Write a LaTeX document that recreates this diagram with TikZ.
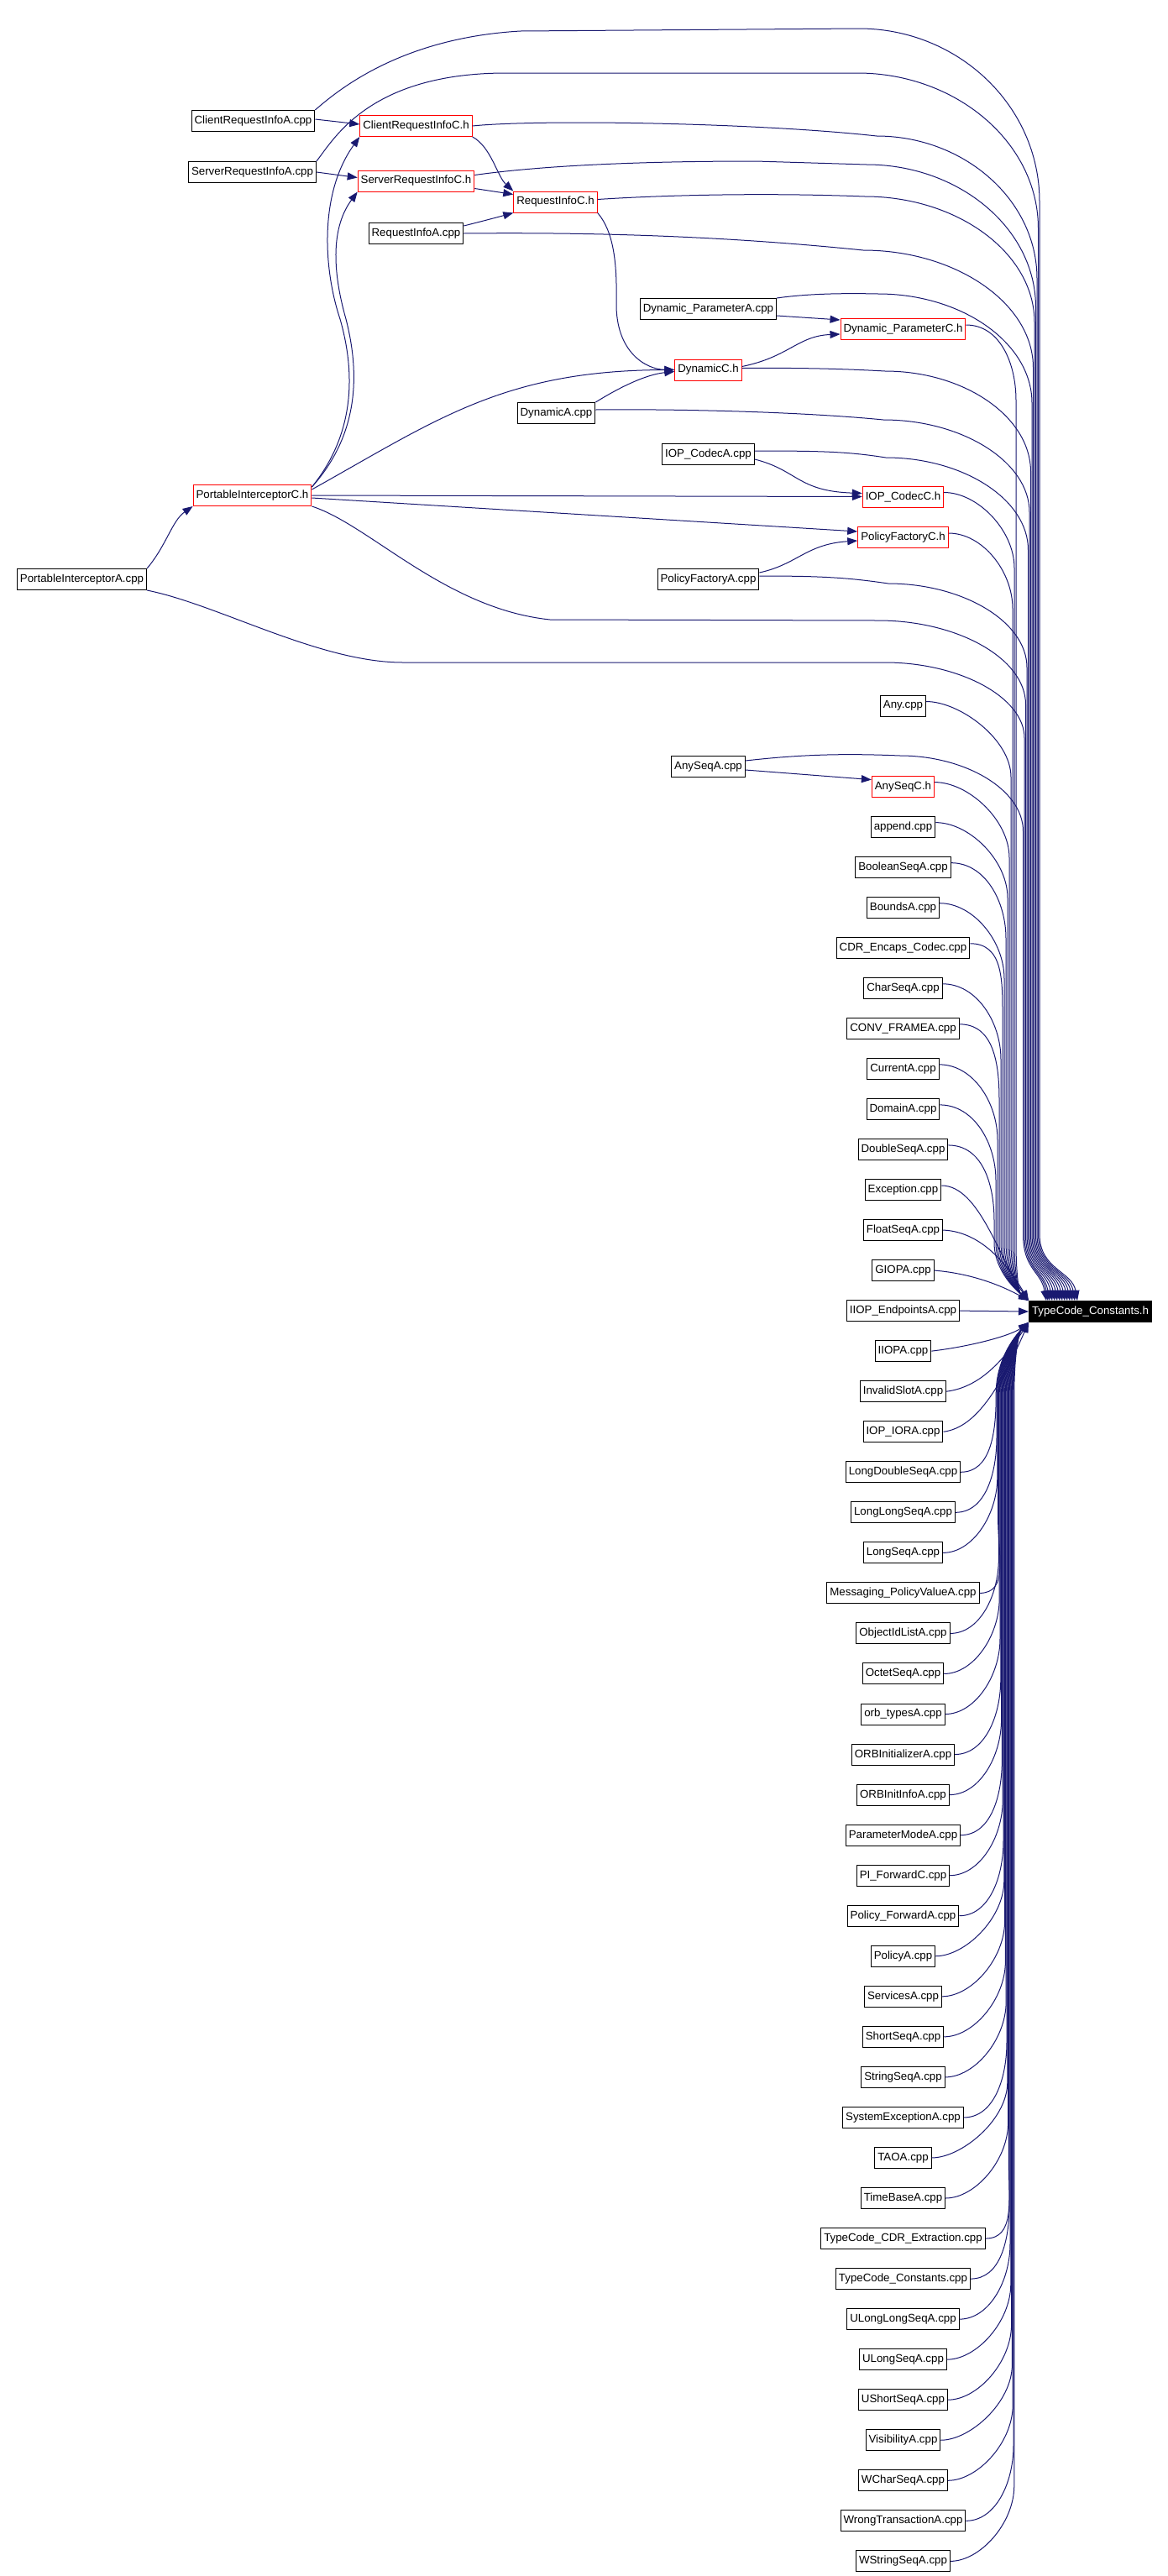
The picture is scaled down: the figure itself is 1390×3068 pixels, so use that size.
\documentclass[tikz,border=0pt]{standalone}
\usepackage{fontspec}
\setmainfont{Liberation Sans}
\usetikzlibrary{arrows.meta,calc}
\definecolor{edgeblue}{HTML}{191970}
\tikzset{
  file/.style={draw=black,line width=1pt,fill=white,inner xsep=3.5pt,inner ysep=0pt,
    minimum height=25pt,font=\fontsize{13.3}{16}\selectfont},
  header/.style={file,draw=red},
  target/.style={file,fill=black,text=white},
  dep/.style={draw=edgeblue,line width=1pt,->}
}
\begin{document}
\begin{tikzpicture}[x=1pt,y=-1pt,>={Triangle[length=12pt,width=9pt]}]
	\useasboundingbox (0,0) rectangle (1390,3068);
	\node[file] (pia) at (97.5,690) {PortableInterceptorA.cpp};
	\node[file] (cria) at (301.5,144) {ClientRequestInfoA.cpp};
	\node[file] (sria) at (300.5,205) {ServerRequestInfoA.cpp};
	\node[header] (pic) at (300.5,590) {PortableInterceptorC.h};
	\node[header] (cric) at (495.5,150) {ClientRequestInfoC.h};
	\node[header] (sric) at (495.5,215.5) {ServerRequestInfoC.h};
	\node[file] (ria) at (495.5,278) {RequestInfoA.cpp};
	\node[header] (ric) at (661.5,240.5) {RequestInfoC.h};
	\node[file] (dyna) at (662.5,492) {DynamicA.cpp};
	\node[file] (dpa) at (843.5,368) {Dynamic\_ParameterA.cpp};
	\node[header] (dync) at (843.5,440.5) {DynamicC.h};
	\node[file] (iopca) at (843.5,541) {IOP\_CodecA.cpp};
	\node[file] (pfa) at (843.5,690) {PolicyFactoryA.cpp};
	\node[file] (anyseqa) at (843.5,913) {AnySeqA.cpp};
	\node[header] (dpc) at (1075.5,392) {Dynamic\_ParameterC.h};
	\node[header] (iopcc) at (1075.5,591.5) {IOP\_CodecC.h};
	\node[header] (pfc) at (1075.5,640) {PolicyFactoryC.h};
	\node[header] (anyseqc) at (1075.5,936.6) {AnySeqC.h};
	\node[target] (tcc) at (1298.5,1562) {TypeCode\_Constants.h};
	\foreach \i/\n/\t in {0/any/Any.cpp, 3/append/append.cpp, 4/booleanseq/BooleanSeqA.cpp,
		5/bounds/BoundsA.cpp, 6/cdrencaps/CDR\_Encaps\_Codec.cpp, 7/charseq/CharSeqA.cpp,
		8/convframe/CONV\_FRAMEA.cpp, 9/current/CurrentA.cpp, 10/domain/DomainA.cpp,
		11/doubleseq/DoubleSeqA.cpp, 12/exception/Exception.cpp, 13/floatseq/FloatSeqA.cpp,
		14/giop/GIOPA.cpp, 15/iiopendpoints/IIOP\_EndpointsA.cpp, 16/iiop/IIOPA.cpp,
		17/invalidslot/InvalidSlotA.cpp, 18/iopior/IOP\_IORA.cpp, 19/longdoubleseq/LongDoubleSeqA.cpp,
		20/longlongseq/LongLongSeqA.cpp, 21/longseq/LongSeqA.cpp, 22/messaging/Messaging\_PolicyValueA.cpp,
		23/objectidlist/ObjectIdListA.cpp, 24/octetseq/OctetSeqA.cpp, 25/orbtypes/orb\_typesA.cpp,
		26/orbinitializer/ORBInitializerA.cpp, 27/orbinitinfo/ORBInitInfoA.cpp,
		28/parametermode/ParameterModeA.cpp, 29/piforward/PI\_ForwardC.cpp,
		30/policyforward/Policy\_ForwardA.cpp, 31/policya/PolicyA.cpp, 32/services/ServicesA.cpp,
		33/shortseq/ShortSeqA.cpp, 34/stringseq/StringSeqA.cpp, 35/systemexception/SystemExceptionA.cpp,
		36/tao/TAOA.cpp, 37/timebase/TimeBaseA.cpp, 38/tccdrextraction/TypeCode\_CDR\_Extraction.cpp,
		39/tcconstants/TypeCode\_Constants.cpp, 40/ulonglongseq/ULongLongSeqA.cpp,
		41/ulongseq/ULongSeqA.cpp, 42/ushortseq/UShortSeqA.cpp, 43/visibility/VisibilityA.cpp,
		44/wcharseq/WCharSeqA.cpp, 45/wrongtransaction/WrongTransactionA.cpp, 46/wstringseq/WStringSeqA.cpp}
		\node[file] (\n) at (1075.5,{840.5+48.04*\i}) {\t};
	\draw[dep] ([yshift=2pt]cria.east) -- ([yshift=2pt]cric.west);
	\draw[dep] (sria.east) -- ([yshift=4pt]sric.west);
	\draw[dep] (cric.south east) .. controls (585,175) and (592,210) .. (ric.north west);
	\draw[dep] ([yshift=-9pt]sric.east) -- ([yshift=9pt]ric.west);
	\draw[dep] ([yshift=9pt]ria.east) .. controls (580,262) and (595,258) .. (ric.south west);
	\draw[dep] (ric.south east) .. controls (730,275) and (735,310) .. (734,360) .. controls (733,420) and (770,440) .. (dync.west);
	\draw[dep] (dyna.north east) .. controls (740,460) and (770,446) .. ([yshift=-2pt]dync.west);
	\draw[dep] ([yshift=7pt]pic.east) .. controls (520,500) and (600,441) .. (dync.west);
	\draw[dep] ([yshift=10pt]pic.east) .. controls (420,520) and (425,450) .. (405,380) .. controls (385,320) and (380,230) .. (cric.south west);
	\draw[dep] ([yshift=10pt]pic.east) .. controls (425,520) and (430,450) .. (412,380) .. controls (395,320) and (395,270) .. (sric.south west);
	\draw[dep] (pic.east) -- (iopcc.west);
	\draw[dep] ([yshift=-3pt]pic.east) -- ([yshift=7pt]pfc.west);
	\draw[dep] ([yshift=8pt]pfa.east) .. controls (950,672) and (960,648) .. ([yshift=-4pt]pfc.west);
	\draw[dep] ([yshift=-6pt]iopca.east) .. controls (950,560) and (950,585) .. ([yshift=4pt]iopcc.west);
	\draw[dep] ([yshift=4pt]dync.east) .. controls (940,425) and (950,400) .. ([yshift=-6pt]dpc.west);
	\draw[dep] ([yshift=-8pt]dpa.east) -- ([yshift=11pt]dpc.west);
	\draw[dep] (pia.north east) .. controls (198,650) and (205,620) .. (pic.south west);
	\draw[dep] ([yshift=-4pt]anyseqa.east) -- ([yshift=8pt]anyseqc.west);
	\draw[dep] (cria.north east) .. controls (405,105) and (480,45) .. (620,37) -- (1023,34) .. controls (1141,34) and (1238,126) .. (1238,240) -- (1238,1470) .. controls (1238,1512) and +(-6,-35) .. ($(tcc.north west)+(58,0)$);
	\draw[dep] (sria.north east) .. controls (398,165) and (440,88) .. (600,87) -- (1021,87) .. controls (1139,87) and (1236.5,170) .. (1236.5,272) -- (1236.5,1470) .. controls (1236.5,1512) and +(-6,-35) .. ($(tcc.north west)+(55,0)$);
	\draw[dep] (cric.east) .. controls (640,142) and (900,146) .. (1044,162) .. controls (1148,162) and (1235,238) .. (1235,332) -- (1235,1470) .. controls (1235,1512) and +(-6,-35) .. ($(tcc.north west)+(52,0)$);
	\draw[dep] ([yshift=7pt]sric.east) .. controls (640,198) and (750,192) .. (900,192) -- (1032,196) .. controls (1142,196) and (1233.5,272) .. (1233.5,366) -- (1233.5,1470) .. controls (1233.5,1512) and +(-6,-35) .. ($(tcc.north west)+(49,0)$);
	\draw[dep] ([yshift=3pt]ric.east) .. controls (780,233) and (900,229) .. (1030,234) .. controls (1140,234) and (1232,301) .. (1232,384) -- (1232,1470) .. controls (1232,1512) and +(-6,-35) .. ($(tcc.north west)+(46,0)$);
	\draw[dep] (ria.east) .. controls (750,276) and (900,285) .. (1028,298) .. controls (1138,298) and (1230.5,361) .. (1230.5,438) -- (1230.5,1470) .. controls (1230.5,1512) and +(-6,-35) .. ($(tcc.north west)+(43,0)$);
	\draw[dep] (dpa.north east) .. controls (960,350) and (1000,349) .. (1046,350) .. controls (1145,350) and (1229,408) .. (1229,480) -- (1229,1470) .. controls (1229,1512) and +(-6,-35) .. ($(tcc.north west)+(40,0)$);
	\draw[dep] ([yshift=2pt]dync.east) .. controls (950,438) and (1000,439) .. (1054,442) .. controls (1148,442) and (1227.5,496) .. (1227.5,562) -- (1227.5,1470) .. controls (1227.5,1512) and +(-6,-35) .. ($(tcc.north west)+(37,0)$);
	\draw[dep] ([yshift=4pt]dyna.east) .. controls (800,487) and (950,490) .. (1052,500) .. controls (1146,500) and (1226,550) .. (1226,610) -- (1226,1470) .. controls (1226,1512) and +(-6,-35) .. ($(tcc.north west)+(34,0)$);
	\draw[dep] ([yshift=4pt]iopca.east) .. controls (980,537) and (1010,538) .. (1055,545) .. controls (1146,545) and (1224.5,594) .. (1224.5,655) -- (1224.5,1470) .. controls (1224.5,1512) and +(-6,-35) .. ($(tcc.north west)+(31,0)$);
	\draw[dep] ([yshift=4pt]pfa.east) .. controls (980,686) and (1010,688) .. (1058,695) .. controls (1146,695) and (1223,740) .. (1223,795) -- (1223,1470) .. controls (1223,1512) and +(-6,-35) .. ($(tcc.north west)+(28,0)$);
	\draw[dep] (pic.south east) .. controls (440,625) and (530,725) .. (655,738) -- (1046,739) .. controls (1140,739) and (1221.5,784) .. (1221.5,839) -- (1221.5,1470) .. controls (1221.5,1512) and +(-6,-35) .. ($(tcc.north west)+(25,0)$);
	\draw[dep] (pia.south east) .. controls (260,720) and (380,789) .. (480,789) -- (1054,789) .. controls (1142,789) and (1220,830) .. (1220,879) -- (1220,1470) .. controls (1220,1512) and +(-6,-35) .. ($(tcc.north west)+(23,0)$);
	\draw[dep] ([yshift=7pt]anyseqa.east) .. controls (950,899) and (1000,897) .. (1072,900) .. controls (1149,900) and (1218.5,940) .. (1218.5,990) -- (1218.5,1470) .. controls (1218.5,1512) and +(-6,-35) .. ($(tcc.north west)+(21,0)$);
	\foreach \n/\y/\xv in {dpc/392/1210, iopcc/591.5/1208, pfc/640/1206, any/840.5/1204, anyseqc/936.6/1202,
		append/984.6/1200, booleanseq/1032.7/1198, bounds/1080.7/1196, cdrencaps/1128.7/1194,
		charseq/1176.8/1192, convframe/1224.8/1190, current/1272.9/1188, domain/1320.9/1186, doubleseq/1369/1184}
		\draw[dep] ([yshift=5pt]\n.east) .. controls +(40,0) and +(0,-45) .. (\xv,{\y+85}) -- (\xv,1480) .. controls (\xv,1515) and +(-12,-10) .. (tcc.north west);
	\draw[dep] ([yshift=5pt]exception.east) .. controls +(45,0) and (1190,1500) .. (tcc.north west);
	\draw[dep] (floatseq.east) .. controls +(50,2) and (1205,1515) .. (tcc.north west);
	\draw[dep] (giop.east) .. controls +(50,4) and (1200,1535) .. (tcc.north west);
	\draw[dep] (iiopendpoints.east) -- (tcc.west);
	\draw[dep] (iiop.east) .. controls +(50,-6) and (1205,1590) .. (tcc.south west);
	\draw[dep] (invalidslot.east) .. controls +(40,-5) and (1195,1620) .. (tcc.south west);
	\draw[dep] (iopior.east) .. controls +(40,-5) and (1192,1650) .. (tcc.south west);
	\foreach \i/\n in {19/longdoubleseq, 20/longlongseq, 21/longseq, 22/messaging, 23/objectidlist,
		24/octetseq, 25/orbtypes, 26/orbinitializer, 27/orbinitinfo, 28/parametermode, 29/piforward,
		30/policyforward, 31/policya, 32/services, 33/shortseq, 34/stringseq, 35/systemexception,
		36/tao, 37/timebase, 38/tccdrextraction, 39/tcconstants, 40/ulonglongseq, 41/ulongseq,
		42/ushortseq, 43/visibility, 44/wcharseq, 45/wrongtransaction, 46/wstringseq} {
		\pgfmathsetmacro\y{840.5+48.04*\i}
		\pgfmathsetmacro\xv{1183+0.8*(\i-15)}
		\draw[dep] (\n.east) .. controls +(35,0) and +(0,45) .. (\xv,{\y-90}) -- (\xv,1660) .. controls (\xv,1615) and +(-12,12) .. (tcc.south west);
	}
\end{tikzpicture}
\end{document}
